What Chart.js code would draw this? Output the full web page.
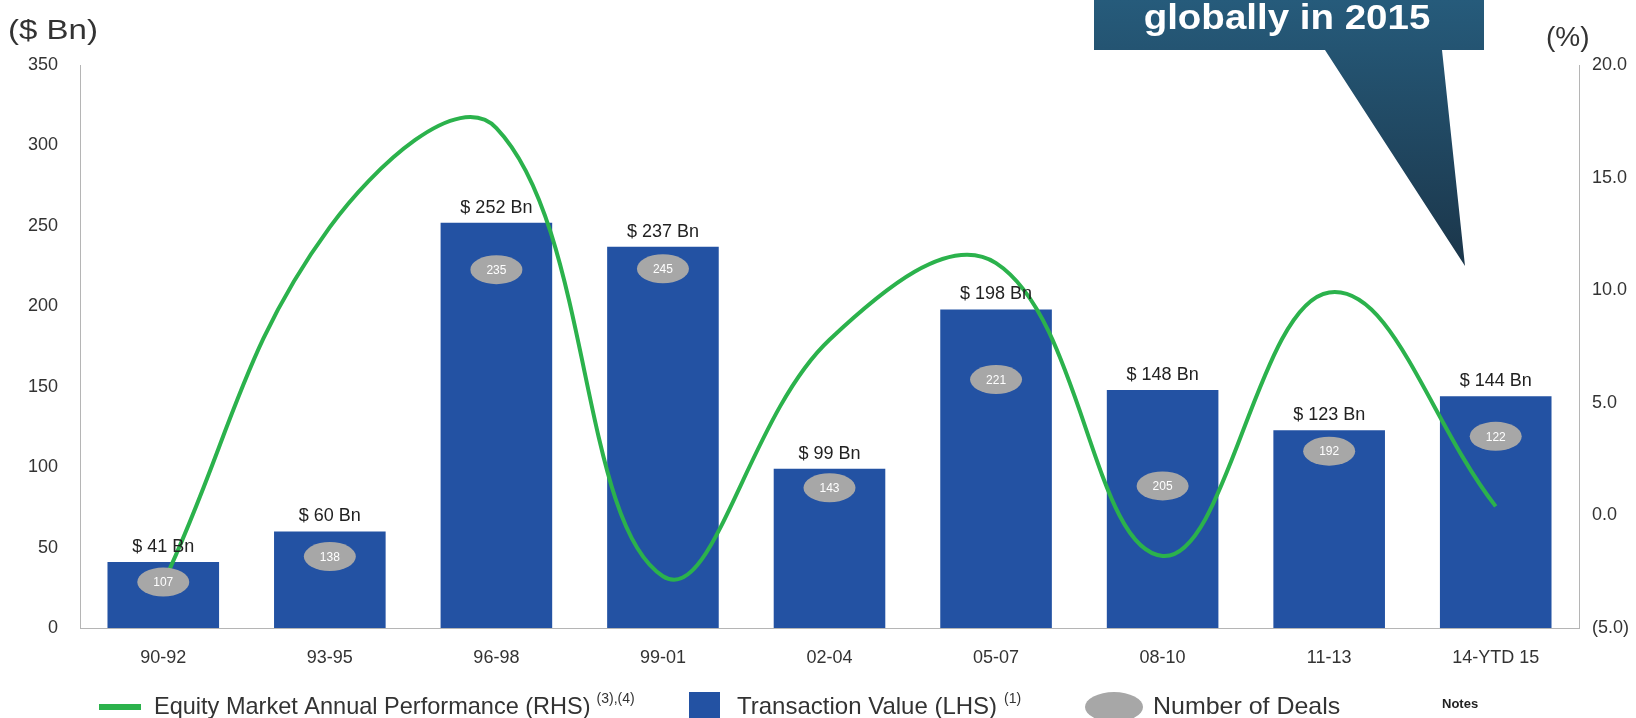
<!DOCTYPE html>
<html><head><meta charset="utf-8">
<script src="https://cdn.jsdelivr.net/npm/chart.js@4"></script>
<style>html,body{margin:0;padding:0;background:#fff;overflow:hidden}canvas{display:block}</style>
</head><body>
<canvas id="c" width="1636" height="718"></canvas>
<script>
// ---- data ----
const categories = ['90-92','93-95','96-98','99-01','02-04','05-07','08-10','11-13','14-YTD 15'];
const transactionValue = [41, 60, 252, 237, 99, 198, 148, 123, 144];      // $ Bn (LHS)
const numberOfDeals = [107, 138, 235, 245, 143, 221, 205, 192, 122];
const equityPerformance = [-3.0, 12.8, 17.2, -2.7, 7.8, 11.2, -1.8, 9.9, 0.4]; // % (RHS)
const leftTickValues = [0, 50, 100, 150, 200, 250, 300, 350];
const rightTickValues = [-5, 0, 5, 10, 15, 20];
const rightTickLabels = ['(5.0)', '0.0', '5.0', '10.0', '15.0', '20.0'];

// ---- layout / style ----
const FONT = '"Liberation Sans", Arial, sans-serif';
const badgeDepth = [20, 25, 47, 22, 19, 70, 96, 21, 40]; // px below bar top
const BAR = '#2352a3', GREEN = '#2bb24c', GREY = '#a7a7a7';

function txt(ctx, s, x, y, size, color, align, opts = {}) {
  ctx.save();
  ctx.font = (opts.bold ? 'bold ' : '') + size + 'px ' + FONT;
  ctx.fillStyle = color;
  ctx.textAlign = align || 'left';
  ctx.textBaseline = opts.baseline || 'middle';
  ctx.translate(x, y);
  ctx.scale(opts.sx || 1, 1);
  ctx.fillText(s, 0, 0);
  const w = ctx.measureText(s).width * (opts.sx || 1);
  ctx.restore();
  return w;
}

const overlay = {
  id: 'overlay',
  afterDatasetsDraw(chart) {
    const ctx = chart.ctx;
    const bars = chart.getDatasetMeta(1).data;
    bars.forEach((b, i) => {
      txt(ctx, '$ ' + transactionValue[i] + ' Bn', b.x, b.y - 15, 18, '#222', 'center');
      const cy = b.y + badgeDepth[i];
      ctx.save();
      ctx.fillStyle = GREY;
      ctx.beginPath();
      ctx.ellipse(b.x, cy, 26, 14.5, 0, 0, Math.PI * 2);
      ctx.fill();
      ctx.restore();
      txt(ctx, String(numberOfDeals[i]), b.x, cy + 1, 12, '#fff', 'center');
    });
  },
  afterDraw(chart) {
    const ctx = chart.ctx;
    // axis titles
    txt(ctx, '($ Bn)', 8, 31, 28, '#333', 'left', {sx: 1.18});
    txt(ctx, '(%)', 1546, 38, 28, '#333', 'left');
    // legend
    const ly = 707;
    ctx.fillStyle = GREEN; ctx.fillRect(99, ly - 3, 42, 6);
    let w = txt(ctx, 'Equity Market Annual Performance (RHS)', 154, ly, 24, '#333', 'left', {sx: 0.98});
    txt(ctx, '(3),(4)', 154 + w + 6, ly - 8, 14, '#333', 'left');
    ctx.fillStyle = BAR; ctx.fillRect(689, 692, 31, 28);
    w = txt(ctx, 'Transaction Value (LHS)', 737, ly, 24, '#333', 'left', {sx: 1.0});
    txt(ctx, '(1)', 737 + w + 7, ly - 8, 14, '#333', 'left');
    ctx.save(); ctx.fillStyle = GREY; ctx.beginPath();
    ctx.ellipse(1114, ly, 29, 15, 0, 0, Math.PI * 2); ctx.fill(); ctx.restore();
    txt(ctx, 'Number of Deals', 1153, ly, 24, '#333', 'left', {sx: 1.04});
    txt(ctx, 'Notes', 1442, 704, 13, '#222', 'left', {bold: true});
    // callout
    ctx.save();
    const g = ctx.createLinearGradient(0, 0, 0, 270);
    g.addColorStop(0, '#265b7b');
    g.addColorStop(1, '#1b3549');
    ctx.fillStyle = g;
    ctx.beginPath();
    ctx.moveTo(1094, -2); ctx.lineTo(1484, -2); ctx.lineTo(1484, 50);
    ctx.lineTo(1442, 50); ctx.lineTo(1465, 266); ctx.lineTo(1325, 50);
    ctx.lineTo(1094, 50); ctx.closePath(); ctx.fill();
    ctx.restore();
    txt(ctx, 'globally in 2015', 1287, 29, 35, '#fff', 'center', {bold: true, baseline: 'alphabetic', sx: 1.1});
  }
};

new Chart(document.getElementById('c'), {
  data: {
    labels: categories,
    datasets: [
      { type: 'line', label: 'Equity Market Annual Performance (RHS)', data: equityPerformance,
        yAxisID: 'yR', borderColor: GREEN, borderWidth: 4, pointRadius: 0, tension: 0.4,
        fill: false, order: 0 },
      { type: 'bar', label: 'Transaction Value (LHS)', data: transactionValue,
        yAxisID: 'yL', backgroundColor: BAR, barPercentage: 0.67, categoryPercentage: 1.0, order: 1 }
    ]
  },
  options: {
    responsive: false, animation: false, devicePixelRatio: 1,
    layout: { padding: { top: 65, left: 0, right: 0, bottom: 0 } },
    plugins: { legend: { display: false }, tooltip: { enabled: false } },
    scales: {
      x: {
        grid: { display: false, drawTicks: false },
        border: { color: '#b5b5b5', width: 1 },
        ticks: { font: { family: FONT, size: 18 }, color: '#333', padding: 19, maxRotation: 0 },
        afterFit: s => { s.height = 90; }
      },
      yL: {
        position: 'left', min: 0, max: 350,
        grid: { display: false, drawTicks: false },
        border: { color: '#b5b5b5', width: 1 },
        ticks: { font: { family: FONT, size: 18 }, color: '#333', padding: 22 },
        afterBuildTicks: s => { s.ticks = leftTickValues.map(v => ({ value: v })); },
        afterFit: s => { s.width = 80; }
      },
      yR: {
        position: 'right', min: -5, max: 20,
        grid: { display: false, drawTicks: false },
        border: { color: '#b5b5b5', width: 1 },
        ticks: { font: { family: FONT, size: 18 }, color: '#333', padding: 13,
                 callback: v => rightTickLabels[rightTickValues.indexOf(v)] },
        afterBuildTicks: s => { s.ticks = rightTickValues.map(v => ({ value: v })); },
        afterFit: s => { s.width = 57; }
      }
    }
  },
  plugins: [overlay]
});
</script>
</body></html>
